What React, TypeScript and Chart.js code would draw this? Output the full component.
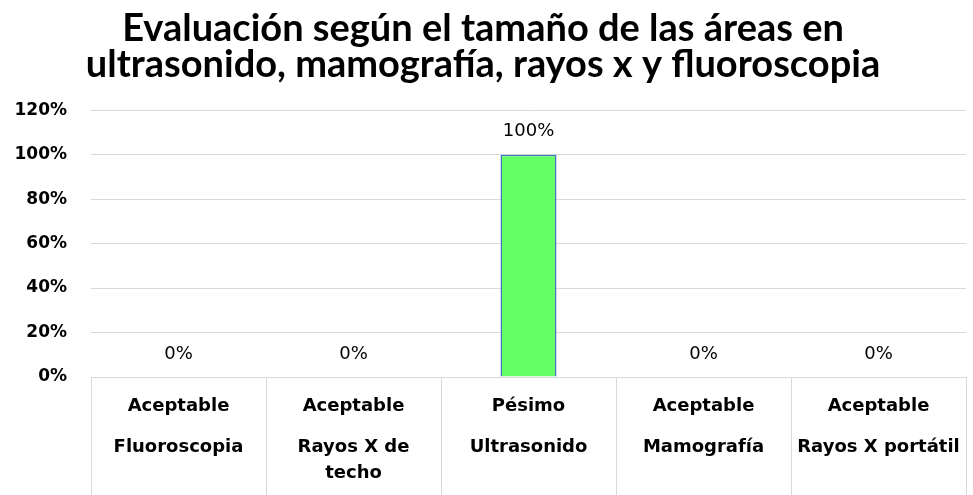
import React, { useEffect, useRef } from "react";
import { Chart, registerables } from "chart.js";

Chart.register(...registerables);

const titleLines = [
  "Evaluación según el tamaño de las áreas en",
  "ultrasonido, mamografía, rayos x y fluoroscopia",
];
const levels = ["Aceptable", "Aceptable", "Pésimo", "Aceptable", "Aceptable"];
const areas = [["Fluoroscopia"], ["Rayos X de", "techo"], ["Ultrasonido"], ["Mamografía"], ["Rayos X portátil"]];
const values = [0, 0, 1, 0, 0];
const yTicks = [0, 0.2, 0.4, 0.6, 0.8, 1.0, 1.2];

const pct = (v: number) => Math.round(v * 100) + "%";

const tablePlugin = {
  id: "tableAxis",
  afterDraw(chart: any) {
    const { ctx, chartArea } = chart;
    const x = chart.scales.x;
    const n = levels.length;
    const w = (chartArea.right - chartArea.left) / n;
    ctx.save();
    ctx.strokeStyle = "#d9d9d9";
    ctx.lineWidth = 1;
    for (let i = 0; i <= n; i++) {
      const px = Math.round(chartArea.left + i * w) + 0.5;
      ctx.beginPath();
      ctx.moveTo(px, chartArea.bottom);
      ctx.lineTo(px, chart.height);
      ctx.stroke();
    }
    ctx.fillStyle = "#000";
    ctx.textAlign = "center";
    ctx.textBaseline = "middle";
    ctx.font = "bold 18px 'DejaVu Sans'";
    for (let i = 0; i < n; i++) {
      const cx = x.getPixelForValue(i);
      ctx.fillText(levels[i], cx, chartArea.bottom + 29);
      areas[i].forEach((line, j) => {
        ctx.fillText(line, cx, chartArea.bottom + 70 + j * 26);
      });
    }
    // data labels
    const meta = chart.getDatasetMeta(0);
    ctx.font = "18px 'DejaVu Sans'";
    meta.data.forEach((bar: any, i: number) => {
      ctx.fillText(pct(values[i]), bar.x, bar.y - 23);
    });
    ctx.restore();
  },
};

export default function App() {
  const ref = useRef<HTMLCanvasElement>(null);
  useEffect(() => {
    const chart = new Chart(ref.current!, {
      type: "bar",
      data: {
        labels: levels.map((l, i) => [l, ...areas[i]]),
        datasets: [
          {
            data: values,
            backgroundColor: "#66ff66",
            borderColor: "#4472c4",
            borderWidth: 1.5,
            categoryPercentage: 1,
            barPercentage: 0.32,
          },
        ],
      },
      options: {
        animation: false,
        responsive: false,
        layout: { padding: { left: 0, right: 7, top: 0, bottom: 0 } },
        plugins: {
          legend: { display: false },
          tooltip: { enabled: false },
          title: {
            display: true,
            text: titleLines,
            color: "#000",
            font: { family: "Lato", weight: "bold", size: 38, lineHeight: 0.95 },
            padding: { top: 11, bottom: 27 },
          },
        },
        scales: {
          x: {
            ticks: { display: false },
            grid: { display: false },
            border: { display: false },
            afterFit: (s: any) => {
              s.height = 118;
            },
          },
          y: {
            min: 0,
            max: 1.2,
            afterBuildTicks: (s: any) => {
              s.ticks = yTicks.map((v) => ({ value: v }));
            },
            ticks: {
              callback: (v: any) => pct(Number(v)),
              color: "#000",
              font: { family: "DejaVu Sans", weight: "bold", size: 17 },
              padding: 24,
            },
            grid: { color: "#d9d9d9", lineWidth: 1, drawTicks: false },
            border: { display: false },
            afterFit: (s: any) => {
              s.width = 91;
            },
          },
        },
      },
      plugins: [tablePlugin],
    });
    return () => chart.destroy();
  }, []);
  return (
    <div style={{ position: "absolute", left: 0, top: 0, width: 973, height: 495, background: "#fff" }}>
      <canvas ref={ref} width={973} height={495} />
    </div>
  );
}
